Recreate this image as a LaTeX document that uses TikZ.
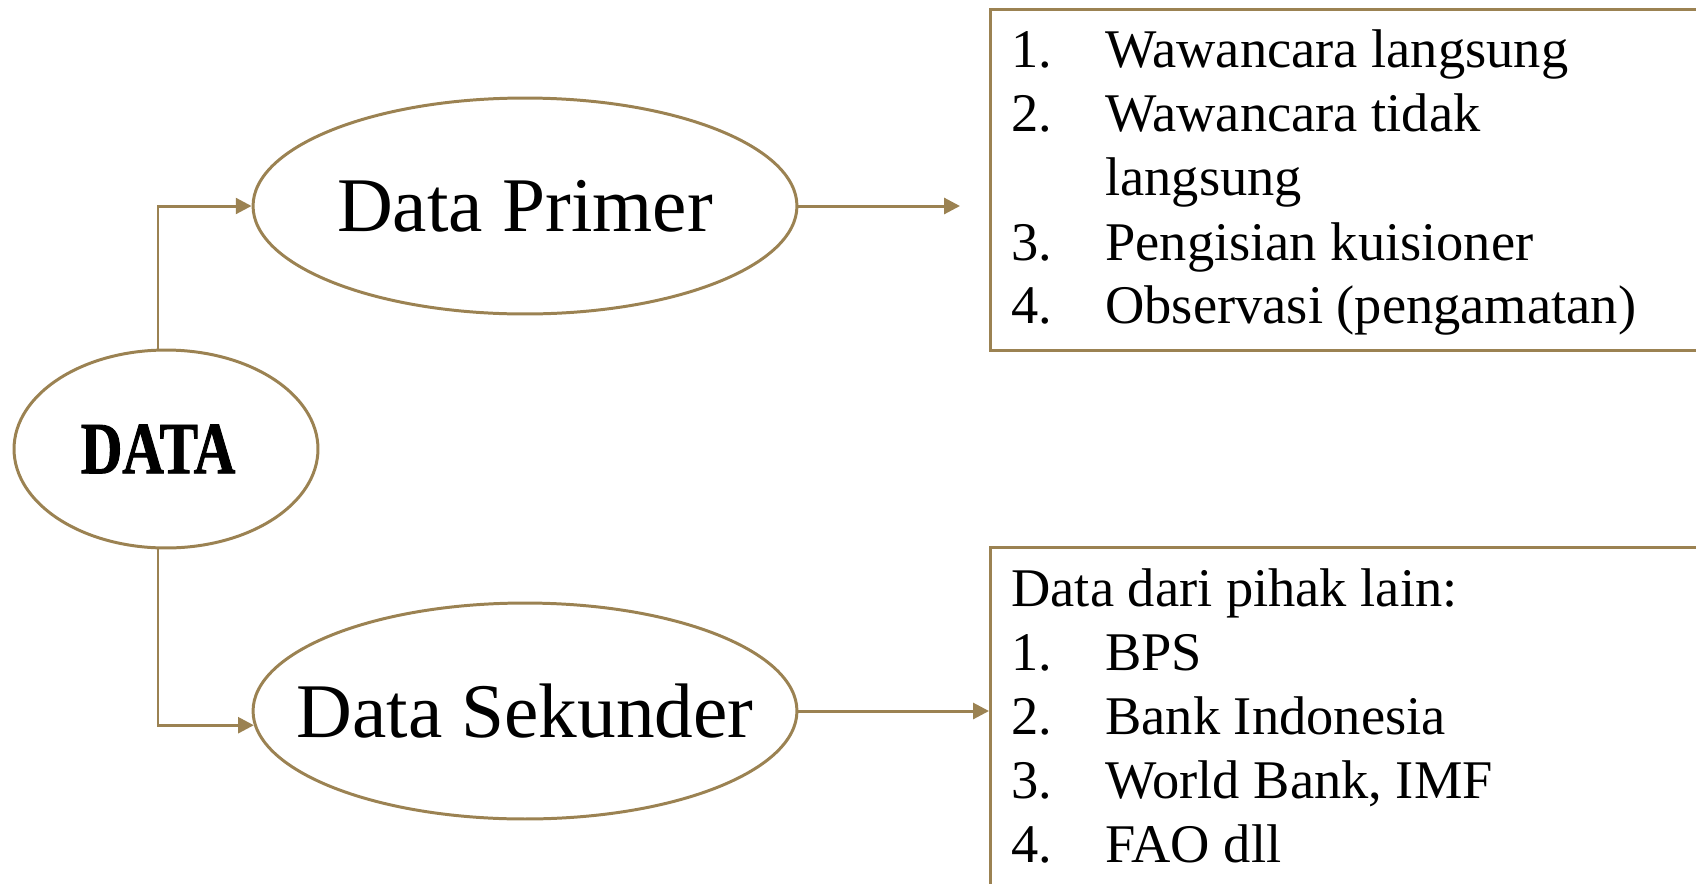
\documentclass[tikz,border=0pt]{standalone}
\usepackage{fontspec}
\setmainfont{Liberation Serif}
\newfontfamily\datafont{Liberation Serif}[FakeStretch=0.78,FakeBold=1.2]
\usetikzlibrary{shapes.geometric,arrows.meta,positioning}
\definecolor{gold}{RGB}{155,130,82}
\tikzset{
  oval/.style={ellipse,draw=gold,line width=1.7pt,inner sep=0pt},
  arr/.style={draw=gold,line width=1.7pt,-{Triangle[length=9pt,width=9pt]}},
  listbox/.style={rectangle,draw=gold,line width=1.7pt,anchor=north west,minimum width=14.6cm},
  item/.style={anchor=base west,inner sep=0pt,font=\fontsize{31}{37}\selectfont},
}
\begin{document}
\begin{tikzpicture}[x=0.02cm,y=-0.02cm]
\clip (0,0) rectangle (1696,883);
\node[oval,minimum width=6.08cm,minimum height=3.96cm] (data) at (166,449) {\makebox[0pt]{\datafont\bfseries\fontsize{42}{48}\selectfont DATA\hspace{9pt}}};
\node[oval,minimum width=10.88cm,minimum height=4.32cm,font=\fontsize{44}{52}\selectfont] (primer) at (525,206) {\makebox[0pt]{Data Primer}};
\node[oval,minimum width=10.88cm,minimum height=4.32cm,font=\fontsize{44}{52}\selectfont] (sekunder) at (525,711) {\makebox[0pt]{Data Sekunder}};
\node[listbox,minimum height=6.82cm] (primbox) at (989,8) {};
\node[listbox,minimum height=8cm] (sekbox) at (989,546) {};
\foreach \y/\n/\t [count=\i] in {67/1./Wawancara langsung,131/2./Wawancara tidak,195//langsung,260/3./Pengisian kuisioner,323/4./Observasi (pengamatan)} {
  \node[item] (pn\i) at (1011,\y) {\n};
  \node[item] (pt\i) at (1105,\y) {\t};
}
\node[item] (sekhead) at (1011,606) {Data dari pihak lain:};
\foreach \y/\n/\t [count=\i] in {670/1./BPS,734/2./Bank Indonesia,798/3./{World Bank, IMF},862/4./FAO dll} {
  \node[item] (sn\i) at (1011,\y) {\n};
  \node[item] (st\i) at (1105,\y) {\t};
}
\coordinate (primtip) at (960,206);
\draw[arr] ([xshift=-0.16cm]data.north) |- (primer.west);
\draw[arr] ([xshift=-0.16cm]data.south) |- (sekunder.183.6);
\draw[arr] (primer.east) -- (primtip);
\draw[arr] (sekunder.east) -- (sekbox.west |- sekunder.east);
\end{tikzpicture}
\end{document}
